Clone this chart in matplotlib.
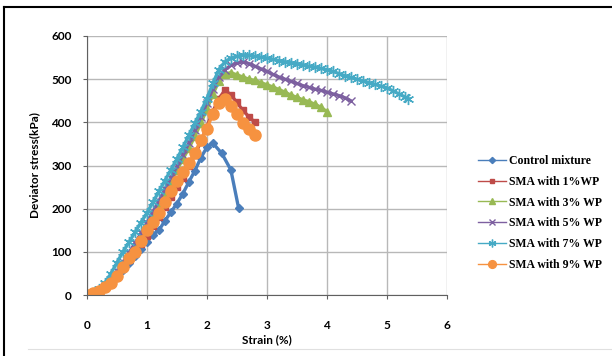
import numpy as np
import matplotlib
matplotlib.use("Agg")
from matplotlib import pyplot as plt
from matplotlib.lines import Line2D

# Control mixture
ctrl_x = [0, 0.1, 0.2, 0.3, 0.4, 0.5, 0.6, 0.7, 0.8, 0.9, 1.0, 1.1, 1.2, 1.3, 1.4, 1.5,
          1.6, 1.7, 1.8, 1.9, 2.0, 2.1, 2.25, 2.4, 2.53]
ctrl_y = [0, 4, 10, 18, 28, 42, 58, 74, 90, 106, 124, 140, 150, 172, 192, 212,
          235, 262, 288, 318, 342, 352, 328, 290, 201]

# SMA with 1% WP
wp1_x = [0, 0.1, 0.2, 0.3, 0.4, 0.5, 0.6, 0.7, 0.8, 0.9, 1.0, 1.1, 1.2, 1.3, 1.4, 1.5,
         1.6, 1.7, 1.8, 1.9, 2.0, 2.1, 2.2, 2.3, 2.4, 2.5, 2.6, 2.7, 2.8]
wp1_y = [0, 5, 12, 20, 32, 48, 65, 82, 100, 118, 138, 160, 182, 205, 228, 250,
         272, 298, 325, 355, 390, 425, 455, 474, 464, 446, 428, 413, 400]

# SMA with 3% WP
wp3_x = [0, 0.1, 0.2, 0.3, 0.4, 0.5, 0.6, 0.7, 0.8, 0.9, 1.0, 1.1, 1.2, 1.3, 1.4, 1.5,
         1.6, 1.7, 1.8, 1.9, 2.0, 2.1, 2.2, 2.3, 2.4, 2.5, 2.6, 2.7, 2.8, 2.9, 3.0,
         3.1, 3.2, 3.3, 3.4, 3.5, 3.6, 3.7, 3.8, 3.9, 4.0]
wp3_y = [0, 5, 12, 22, 35, 52, 72, 92, 112, 135, 160, 185, 210, 238, 265, 290,
         315, 340, 368, 398, 430, 465, 495, 512, 515, 510, 505, 500, 497, 492, 487,
         482, 476, 470, 463, 458, 452, 448, 442, 435, 425]

# SMA with 5% WP
wp5_x = [0, 0.1, 0.2, 0.3, 0.4, 0.5, 0.6, 0.7, 0.8, 0.9, 1.0, 1.1, 1.2, 1.3, 1.4, 1.5,
         1.6, 1.7, 1.8, 1.9, 2.0, 2.1, 2.2, 2.3, 2.4, 2.5, 2.6, 2.7, 2.8, 2.9, 3.0,
         3.1, 3.2, 3.3, 3.4, 3.5, 3.6, 3.7, 3.8, 3.9, 4.0, 4.1, 4.2, 4.3, 4.4]
wp5_y = [0, 5, 12, 22, 36, 55, 76, 98, 120, 143, 168, 193, 218, 245, 272, 298,
         325, 352, 382, 412, 445, 478, 505, 522, 532, 537, 540, 536, 530, 524, 518,
         511, 505, 500, 495, 490, 485, 481, 477, 474, 470, 466, 462, 457, 450]

# SMA with 7% WP
wp7_x = [0, 0.1, 0.2, 0.3, 0.4, 0.5, 0.6, 0.7, 0.8, 0.9, 1.0, 1.1, 1.2, 1.3, 1.4, 1.5,
         1.6, 1.7, 1.8, 1.9, 2.0, 2.1, 2.2, 2.3, 2.4, 2.5, 2.6, 2.7, 2.8, 2.9, 3.0,
         3.1, 3.2, 3.3, 3.4, 3.5, 3.6, 3.7, 3.8, 3.9, 4.0, 4.1, 4.2, 4.3, 4.4, 4.5,
         4.6, 4.7, 4.8, 4.9, 5.0, 5.1, 5.2, 5.3, 5.36]
wp7_y = [0, 5, 14, 28, 50, 75, 100, 122, 145, 168, 190, 215, 240, 265, 290, 315,
         342, 370, 398, 425, 455, 490, 522, 540, 549, 553, 556, 555, 553, 551, 549,
         546, 543, 540, 538, 536, 533, 530, 528, 525, 522, 518, 513, 508, 504, 500,
         496, 492, 488, 484, 480, 473, 466, 459, 455]

# SMA with 9% WP
wp9_x = [0, 0.1, 0.2, 0.3, 0.4, 0.5, 0.6, 0.7, 0.8, 0.9, 1.0, 1.1, 1.2, 1.3, 1.4, 1.5,
         1.6, 1.7, 1.8, 1.9, 2.0, 2.1, 2.2, 2.3, 2.4, 2.5, 2.6, 2.7, 2.8]
wp9_y = [0, 5, 10, 18, 28, 45, 65, 85, 100, 125, 150, 170, 190, 215, 240, 265,
         285, 305, 330, 358, 385, 420, 445, 455, 437, 420, 398, 385, 370]

labels = ["Control mixture", "SMA with 1%WP", "SMA with 3% WP",
          "SMA with 5% WP", "SMA with 7% WP", "SMA with 9% WP"]

series = [
    (ctrl_x, ctrl_y, "#4A7EBB", "D", 4.5),
    (wp1_x, wp1_y, "#BE4B48", "s", 4.5),
    (wp3_x, wp3_y, "#98B954", "^", 6),
    (wp5_x, wp5_y, "#7D60A0", "x", 6),
    (wp7_x, wp7_y, "#46AAC5", (6, 2, 0), 8),
    (wp9_x, wp9_y, "#F69240", "o", 8),
]

fig = plt.figure(figsize=(6.12, 3.56), dpi=100)
ax = fig.add_axes([0.142, 0.171, 0.588, 0.728])

for (x, y, c, m, ms), lab in zip(series, labels):
    ax.plot(x, y, color=c, marker=m, markersize=ms, linewidth=2.4,
            markeredgecolor=c, markeredgewidth=1.0, label=lab)

ax.set_xlim(0, 6)
ax.set_ylim(0, 600)
ax.set_xticks(range(0, 7))
ax.set_yticks(range(0, 601, 100))
ax.grid(True, color="#b8b8b8", linewidth=1.0)
ax.set_axisbelow(True)
for s in ["top", "right"]:
    ax.spines[s].set_visible(False)
for s in ["left", "bottom"]:
    ax.spines[s].set_color("#606060")
ax.tick_params(direction="out", length=3, color="#606060", pad=8)
for t in ax.get_xticklabels() + ax.get_yticklabels():
    t.set_fontweight("bold")
    t.set_fontsize(8.5)
    t.set_family("Lato")
ax.tick_params(axis="x", pad=15)
ax.set_xlabel("Strain (%)", fontsize=8.5, fontweight="bold", family="Lato")
ax.xaxis.set_label_coords(0.5, -0.152)
ax.set_ylabel("Deviator stress(kPa)", fontsize=8.5, fontweight="bold", family="Lato",
              labelpad=8)

handles = [Line2D([0], [0], color=c, marker=m, markersize=ms * 0.7, linewidth=1.0,
                  markeredgecolor=c) for (_, _, c, m, ms) in series]
fig.legend(handles, labels, loc="upper left", bbox_to_anchor=(0.763, 0.595),
           frameon=False, prop={"family": "Liberation Serif", "weight": "bold", "size": 8.5},
           handlelength=2.4, labelspacing=0.75, handletextpad=0.3)

# page border lines
fig.add_artist(Line2D([0.006, 0.006], [0, 0.98], color="black", linewidth=1.5))
fig.add_artist(Line2D([0.006, 1.0], [0.98, 0.98], color="black", linewidth=1.5))
fig.add_artist(Line2D([0.045, 1.0], [0.02, 0.02], color="#e0e0e0", linewidth=0.8))

fig.savefig("out.png", dpi=100)
